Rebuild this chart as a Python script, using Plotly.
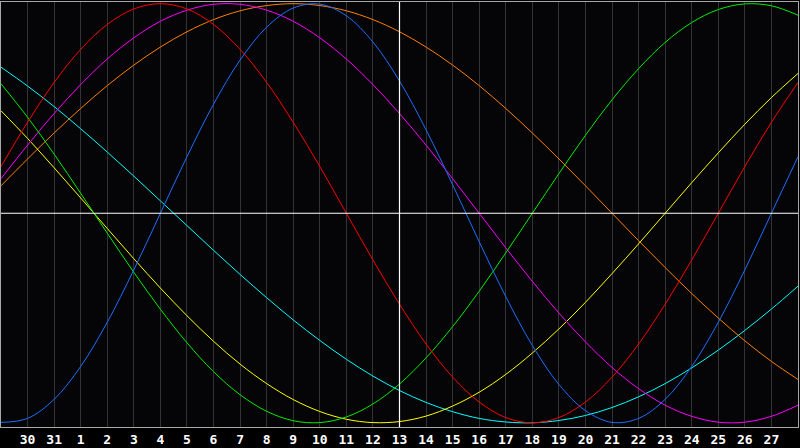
import plotly.graph_objects as go

# day labels, one per column (first and last sit on the plot edges)
days = ["29", "30", "31", "1", "2", "3", "4", "5", "6", "7", "8", "9", "10", "11", "12",
        "13", "14", "15", "16", "17", "18", "19", "20", "21", "22", "23", "24", "25", "26",
        "27", "28"]
today = "13"

# cycle values for each day (-1 .. 1)
blue = [-0.998, -0.979, -0.888, -0.731, -0.520, -0.270, 0.0, 0.270, 0.520, 0.731, 0.888,
        0.979, 0.998, 0.942, 0.817, 0.631, 0.398, 0.136, -0.136, -0.398, -0.631, -0.817,
        -0.942, -0.998, -0.979, -0.888, -0.731, -0.520, -0.270, 0.0, 0.270]
red = [0.223, 0.434, 0.624, 0.782, 0.901, 0.975, 1.0, 0.975, 0.901, 0.782, 0.624, 0.434,
       0.223, 0.0, -0.223, -0.434, -0.624, -0.782, -0.901, -0.975, -1.0, -0.975, -0.901,
       -0.782, -0.624, -0.434, -0.223, 0.0, 0.223, 0.434, 0.624]
green = [0.618, 0.458, 0.282, 0.095, -0.095, -0.282, -0.458, -0.618, -0.756, -0.866,
         -0.945, -0.990, -0.999, -0.972, -0.910, -0.815, -0.690, -0.541, -0.372, -0.189,
         0.0, 0.189, 0.372, 0.541, 0.690, 0.815, 0.910, 0.972, 0.999, 0.990, 0.945]
magenta = [0.165, 0.325, 0.476, 0.614, 0.736, 0.837, 0.916, 0.969, 0.997, 0.997, 0.969,
           0.916, 0.837, 0.736, 0.614, 0.476, 0.325, 0.165, 0.0, -0.165, -0.325, -0.476,
           -0.614, -0.736, -0.837, -0.916, -0.969, -0.997, -0.997, -0.969, -0.916]
yellow = [0.489, 0.357, 0.217, 0.073, -0.073, -0.217, -0.357, -0.489, -0.611, -0.720,
          -0.813, -0.889, -0.946, -0.983, -0.999, -0.994, -0.968, -0.920, -0.854, -0.769,
          -0.667, -0.552, -0.425, -0.288, -0.146, 0.0, 0.146, 0.288, 0.425, 0.552, 0.667]
orange = [0.131, 0.259, 0.383, 0.500, 0.609, 0.707, 0.793, 0.866, 0.924, 0.966, 0.991,
          1.0, 0.991, 0.966, 0.924, 0.866, 0.793, 0.707, 0.609, 0.500, 0.383, 0.259, 0.131,
          0.0, -0.131, -0.259, -0.383, -0.500, -0.609, -0.707, -0.793]
cyan = [0.697, 0.607, 0.509, 0.403, 0.292, 0.177, 0.059, -0.059, -0.177, -0.292, -0.403,
        -0.509, -0.607, -0.697, -0.777, -0.846, -0.903, -0.947, -0.979, -0.996, -1.0,
        -0.989, -0.965, -0.927, -0.876, -0.813, -0.738, -0.653, -0.559, -0.457, -0.348]

x = list(range(len(days)))
series = [
    (cyan, "#00ffff"),
    (orange, "#ff8000"),
    (yellow, "#ffff00"),
    (magenta, "#ff00ff"),
    (green, "#00ee00"),
    (red, "#ff0000"),
    (blue, "#1e6eff"),
]

fig = go.Figure()
for vals, col in series:
    fig.add_trace(go.Scatter(x=x, y=vals, mode="lines", line=dict(color=col, width=1, shape="spline"),
                             hoverinfo="skip", showlegend=False))

# center line and today marker
fig.add_hline(y=0, line=dict(color="white", width=1.2), layer="above")
fig.add_vline(x=days.index(today), line=dict(color="white", width=1.2), layer="above")

fig.update_xaxes(range=[0, len(days) - 1], tickvals=x[1:-1], ticktext=days[1:-1],
                 showgrid=True, gridcolor="#333333", gridwidth=1, zeroline=False,
                 showline=True, linecolor="#a8a8a8", linewidth=1, mirror=True, ticks="",
                 tickfont=dict(family="DejaVu Sans Mono", size=13, color="white", weight="bold"))
fig.update_yaxes(range=[-1.02, 1.008], showgrid=False, zeroline=False, showticklabels=False,
                 showline=True, linecolor="#a8a8a8", linewidth=1, mirror=True)
fig.update_layout(width=800, height=448, margin=dict(l=1, r=1, t=1, b=20),
                  paper_bgcolor="#000000", plot_bgcolor="#050508")
# page body has a default 8px margin, drop it so the figure fills the window
fig.write_html("out.html", config={"displayModeBar": False},
               post_script="document.body.style.margin='0';")
